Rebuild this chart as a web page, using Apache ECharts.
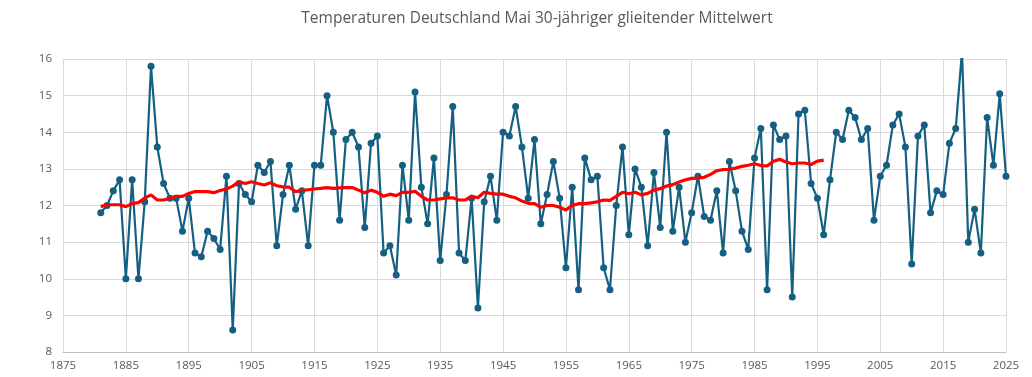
<!DOCTYPE html>
<html>
<head>
<meta charset="utf-8">
<script src="https://cdn.jsdelivr.net/npm/echarts@6/dist/echarts.min.js"></script>
<style>
html,body{margin:0;padding:0;background:#fff;}
#chart{width:1032px;height:377px;}
</style>
</head>
<body>
<div id="chart"></div>
<script>
const title = 'Temperaturen Deutschland Mai 30-jähriger glieitender Mittelwert';
const startYear = 1881;
const temps = [
  11.8, 12.0, 12.4, 12.7, 10.0, 12.7, 10.0, 12.1, 15.8, 13.6, // 1881-1890
  12.6, 12.2, 12.2, 11.3, 12.2, 10.7, 10.6, 11.3, 11.1, 10.8, // 1891-1900
  12.8, 8.6, 12.6, 12.3, 12.1, 13.1, 12.9, 13.2, 10.9, 12.3,  // 1901-1910
  13.1, 11.9, 12.4, 10.9, 13.1, 13.1, 15.0, 14.0, 11.6, 13.8, // 1911-1920
  14.0, 13.6, 11.4, 13.7, 13.9, 10.7, 10.9, 10.1, 13.1, 11.6, // 1921-1930
  15.1, 12.5, 11.5, 13.3, 10.5, 12.3, 14.7, 10.7, 10.5, 12.2, // 1931-1940
  9.2, 12.1, 12.8, 11.6, 14.0, 13.9, 14.7, 13.6, 12.2, 13.8,  // 1941-1950
  11.5, 12.3, 13.2, 12.2, 10.3, 12.5, 9.7, 13.3, 12.7, 12.8,  // 1951-1960
  10.3, 9.7, 12.0, 13.6, 11.2, 13.0, 12.5, 10.9, 12.9, 11.4,  // 1961-1970
  14.0, 11.3, 12.5, 11.0, 11.8, 12.8, 11.7, 11.6, 12.4, 10.7, // 1971-1980
  13.2, 12.4, 11.3, 10.8, 13.3, 14.1, 9.7, 14.2, 13.8, 13.9,  // 1981-1990
  9.5, 14.5, 14.6, 12.6, 12.2, 11.2, 12.7, 14.0, 13.8, 14.6,  // 1991-2000
  14.4, 13.8, 14.1, 11.6, 12.8, 13.1, 14.2, 14.5, 13.6, 10.4, // 2001-2010
  13.9, 14.2, 11.8, 12.4, 12.3, 13.7, 14.1, 16.2, 11.0, 11.9, // 2011-2020
  10.7, 14.4, 13.1, 15.05, 12.8                               // 2021-2025
];
const movingAvg = [
  11.97, 12.02, 12.02, 12.02, 11.97, 12.05, 12.08, 12.2, 12.29, 12.15, // 1881-1890
  12.15, 12.2, 12.25, 12.25, 12.33, 12.38, 12.38, 12.38, 12.35, 12.41, // 1891-1900
  12.45, 12.53, 12.65, 12.6, 12.65, 12.6, 12.56, 12.62, 12.54, 12.51,  // 1901-1910
  12.5, 12.38, 12.41, 12.43, 12.45, 12.47, 12.49, 12.47, 12.48, 12.49, // 1911-1920
  12.49, 12.42, 12.35, 12.42, 12.36, 12.25, 12.31, 12.27, 12.36, 12.36,// 1921-1930
  12.39, 12.25, 12.15, 12.15, 12.18, 12.21, 12.21, 12.15, 12.15, 12.25,// 1931-1940
  12.21, 12.36, 12.33, 12.31, 12.31, 12.25, 12.21, 12.12, 12.06, 12.05,// 1941-1950
  11.95, 12.0, 12.0, 11.95, 11.88, 12.0, 12.05, 12.05, 12.07, 12.1,    // 1951-1960
  12.15, 12.14, 12.25, 12.36, 12.32, 12.36, 12.29, 12.33, 12.42, 12.46,// 1961-1970
  12.53, 12.57, 12.64, 12.7, 12.74, 12.75, 12.77, 12.85, 12.95, 12.98, // 1971-1980
  12.99, 13.02, 13.07, 13.1, 13.14, 13.09, 13.08, 13.21, 13.26, 13.19, // 1981-1990
  13.14, 13.16, 13.16, 13.12, 13.21, 13.24                             // 1991-1996
];
const axisStartYear = 1875;
const axisEndYear = 2025;
const yMin = 8, yMax = 16;

const toPts = arr => arr.map((v, i) => [startYear + i - axisStartYear, v]);

const chart = echarts.init(document.getElementById('chart'), null, {renderer: 'canvas'});
const FONT = '"Open Sans", "Noto Sans", sans-serif';
chart.setOption({
  animation: false,
  backgroundColor: '#ffffff',
  title: {
    text: title,
    left: 532,
    top: 6,
    textAlign: 'center',
    textStyle: {fontFamily: FONT, fontSize: 15.5, fontWeight: 'normal', color: '#595959'}
  },
  grid: {left: 63, right: 26, top: 59, bottom: 25, containLabel: false},
  xAxis: {
    type: 'value',
    min: 0,
    max: axisEndYear - axisStartYear,
    interval: 10,
    axisLine: {show: true, lineStyle: {color: '#bfbfbf', width: 1}},
    axisTick: {show: false},
    splitLine: {show: true, lineStyle: {color: '#d9d9d9', width: 1}},
    axisLabel: {
      formatter: v => String(v + axisStartYear),
      color: '#595959', fontFamily: FONT, fontSize: 11.5, margin: 8,
      showMinLabel: true, showMaxLabel: true
    }
  },
  yAxis: {
    type: 'value',
    min: yMin, max: yMax, interval: 1,
    axisLine: {show: false},
    axisTick: {show: false},
    splitLine: {show: true, lineStyle: {color: '#d9d9d9', width: 1}},
    axisLabel: {color: '#595959', fontFamily: FONT, fontSize: 11.5, margin: 11}
  },
  series: [
    {
      type: 'line',
      data: toPts(temps),
      symbol: 'circle',
      symbolSize: 7,
      showAllSymbol: true,
      clip: true,
      lineStyle: {color: '#156082', width: 2.2},
      itemStyle: {color: '#156082'},
      z: 2
    },
    {
      type: 'line',
      data: toPts(movingAvg),
      symbol: 'none',
      lineStyle: {color: '#ff0000', width: 3.2},
      z: 3
    }
  ]
});
</script>
</body>
</html>
